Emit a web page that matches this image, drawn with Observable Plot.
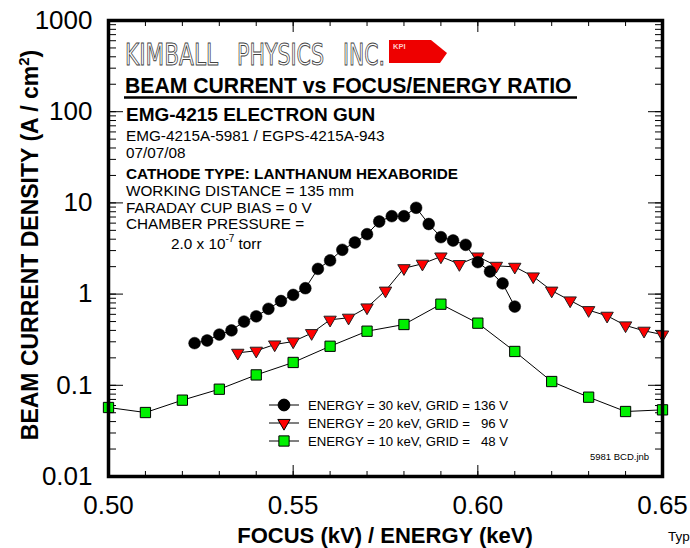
<!DOCTYPE html>
<html>
<head>
<meta charset="utf-8">
<script src="https://cdn.jsdelivr.net/npm/d3@7"></script>
<script src="https://cdn.jsdelivr.net/npm/@observablehq/plot@0.6"></script>
<style>
  html, body { margin: 0; padding: 0; background: #fff; overflow: hidden; }
  #chart { width: 690px; height: 548px; }
</style>
</head>
<body>
<div id="chart"></div>
<script>
// ---- Data ----
const ratio30 = [0.5233,0.5267,0.5300,0.5333,0.5367,0.5400,0.5433,0.5467,0.5500,0.5533,0.5567,0.5600,0.5633,0.5667,0.5700,0.5733,0.5767,0.5800,0.5833,0.5867,0.5900,0.5933,0.5967,0.6000,0.6033,0.6067,0.6100];
const density30 = [0.29,0.31,0.36,0.40,0.50,0.57,0.69,0.84,0.98,1.16,1.89,2.34,3.06,3.68,4.54,6.25,7.15,7.15,8.84,5.87,4.21,3.87,3.47,2.24,1.77,1.31,0.73];

const ratio20 = [0.535,0.540,0.545,0.550,0.555,0.560,0.565,0.570,0.575,0.580,0.585,0.590,0.595,0.600,0.605,0.610,0.615,0.620,0.625,0.630,0.635,0.640,0.645,0.650];
const density20 = [0.227,0.239,0.280,0.302,0.373,0.523,0.550,0.713,1.09,1.92,2.15,2.58,2.13,2.58,2.04,1.99,1.56,1.09,0.851,0.666,0.578,0.453,0.396,0.360];

const ratio10 = [0.50,0.51,0.52,0.53,0.54,0.55,0.56,0.57,0.58,0.59,0.60,0.61,0.62,0.63,0.64,0.65];
const density10 = [0.0571,0.0503,0.0687,0.0906,0.130,0.178,0.268,0.392,0.464,0.775,0.480,0.235,0.110,0.0741,0.0516,0.0538];

const seriesLabels = ["ENERGY = 30 keV, GRID = 136 V", "ENERGY = 20 keV, GRID =   96 V", "ENERGY = 10 keV, GRID =   48 V"];
const xTicks = [0.50, 0.55, 0.60, 0.65];
const yTicks = [0.01, 0.1, 1, 10, 100, 1000];

const xTitle = "FOCUS (kV) / ENERGY (keV)";
const yTitle = "BEAM CURRENT DENSITY (A / cm";

const s30 = ratio30.map((x, i) => ({x, y: density30[i]}));
const s20 = ratio20.map((x, i) => ({x, y: density20[i]}));
const s10 = ratio10.map((x, i) => ({x, y: density10[i]}));

const FONT = "'Liberation Sans', Arial, Helvetica, sans-serif";
const W = 690, H = 548, ML = 108, MR = 28, MT = 20, MB = 72;
const PW = W - ML - MR, PH = H - MT - MB;

// inward ticks: an axis of the opposite side, shifted across the frame
const tickOpts = {fill: "none", label: null, strokeWidth: 1};

const svg = Plot.plot({
  width: W,
  height: H,
  marginLeft: ML,
  marginRight: MR,
  marginTop: MT,
  marginBottom: MB,
  style: {fontFamily: FONT, background: "white", color: "black", overflow: "visible"},
  x: {domain: [0.5, 0.65]},
  y: {type: "log", domain: [0.01, 1000]},
  marks: [
    Plot.axisY({...tickOpts, anchor: "right", ticks: 40, tickSize: 7, dx: -PW}),
    Plot.axisY({...tickOpts, anchor: "right", ticks: yTicks, tickSize: 14, dx: -PW}),
    Plot.axisY({...tickOpts, anchor: "left", ticks: 40, tickSize: 7, dx: PW}),
    Plot.axisY({...tickOpts, anchor: "left", ticks: yTicks, tickSize: 14, dx: PW}),
    Plot.axisX({...tickOpts, anchor: "top", ticks: 15, tickSize: 6, dy: PH}),
    Plot.axisX({...tickOpts, anchor: "top", ticks: xTicks, tickSize: 12, dy: PH}),
    Plot.axisX({...tickOpts, anchor: "bottom", ticks: 15, tickSize: 6, dy: -PH}),
    Plot.axisX({...tickOpts, anchor: "bottom", ticks: xTicks, tickSize: 12, dy: -PH}),
    // tick labels
    Plot.axisY({anchor: "left", ticks: yTicks, tickSize: 0, tickPadding: 16, fontSize: 26, tickFormat: d => String(d), label: null}),
    Plot.axisX({anchor: "bottom", ticks: xTicks, tickSize: 0, tickPadding: 19, fontSize: 26, tickFormat: d3.format(".2f"), label: null}),
    // series
    Plot.line(s10, {x: "x", y: "y", stroke: "black", strokeWidth: 1}),
    Plot.line(s20, {x: "x", y: "y", stroke: "black", strokeWidth: 1}),
    Plot.line(s30, {x: "x", y: "y", stroke: "black", strokeWidth: 1}),
    Plot.dot(s10, {x: "x", y: "y", symbol: "square", r: 5.8, fill: "#00f000", stroke: "black", strokeWidth: 1}),
    Plot.dot(s20, {x: "x", y: "y", symbol: "triangle", rotate: 180, r: 4.6, fill: "#ff0000", stroke: "#222", strokeWidth: 1}),
    Plot.dot(s30, {x: "x", y: "y", symbol: "circle", r: 5.9, fill: "black", stroke: "black", strokeWidth: 0.5}),
    Plot.frame({stroke: "black", strokeWidth: 3.5})
  ]
});
document.getElementById("chart").appendChild(svg);

// ---- annotations (pixel-placed text inside the plot) ----
const g = d3.select(svg).append("g")
  .attr("font-family", FONT).attr("fill", "black").attr("text-anchor", "start");

// logo
const logoWords = [["KIMBALL", 125, 93], ["PHYSICS", 237, 87], ["INC.", 343, 42]];
logoWords.forEach(([t, x, w]) => {
  g.append("text").attr("x", x).attr("y", 65)
    .attr("font-family", "'DejaVu Sans Condensed', 'DejaVu Sans', sans-serif")
    .attr("font-size", 30).attr("fill", "white").attr("stroke", "#444").attr("stroke-width", 0.9)
    .attr("textLength", w).attr("lengthAdjust", "spacingAndGlyphs").text(t);
});
g.append("polygon").attr("points", "389,40 431,40 447,53 440,63 389,63").attr("fill", "#ee0000");
g.append("text").attr("x", 393).attr("y", 49).attr("font-size", 7.5).attr("font-weight", "bold")
  .attr("fill", "#ffc8c8").text("KPI");

// title
g.append("text").attr("x", 125).attr("y", 93).attr("font-size", 21.2).attr("font-weight", "bold")
  .text("BEAM CURRENT vs FOCUS/ENERGY RATIO");
g.append("line").attr("x1", 124).attr("x2", 577).attr("y1", 97.5).attr("y2", 97.5)
  .attr("stroke", "black").attr("stroke-width", 2.5);

g.append("text").attr("x", 126).attr("y", 121).attr("font-size", 19).attr("font-weight", "bold")
  .text("EMG-4215 ELECTRON GUN");
const infoLines = [
  ["EMG-4215A-5981 / EGPS-4215A-943", 140.5, false],
  ["07/07/08", 157.5, false],
  ["CATHODE TYPE: LANTHANUM HEXABORIDE", 179, true],
  ["WORKING DISTANCE = 135 mm", 195.7, false],
  ["FARADAY CUP BIAS = 0 V", 212.7, false],
  ["CHAMBER PRESSURE =", 229.3, false]
];
infoLines.forEach(([t, y, b]) => {
  g.append("text").attr("x", 126).attr("y", y).attr("font-size", 15.3)
    .attr("font-weight", b ? "bold" : "normal").text(t);
});
const press = g.append("text").attr("x", 171).attr("y", 249).attr("font-size", 15.3);
press.append("tspan").text("2.0 x 10");
press.append("tspan").attr("dy", -7).attr("font-size", 10).text("-7");
press.append("tspan").attr("dy", 7).text(" torr");

// legend
const legendRows = [405, 423, 441];
const legendSym = [
  {sym: d3.symbolCircle, size: Math.PI * 5.9 * 5.9, fill: "black", rot: 0},
  {sym: d3.symbolTriangle, size: Math.PI * 4.6 * 4.6, fill: "#ff0000", rot: 180},
  {sym: d3.symbolSquare, size: Math.PI * 5.8 * 5.8, fill: "#00f000", rot: 0}
];
legendRows.forEach((y, i) => {
  g.append("line").attr("x1", 269).attr("x2", 299).attr("y1", y).attr("y2", y)
    .attr("stroke", "black").attr("stroke-width", 1);
  g.append("path").attr("d", d3.symbol(legendSym[i].sym, legendSym[i].size)())
    .attr("transform", `translate(284,${y}) rotate(${legendSym[i].rot})`)
    .attr("fill", legendSym[i].fill).attr("stroke", "black").attr("stroke-width", 1);
  g.append("text").attr("x", 308).attr("y", y + 5).attr("font-size", 13.2)
    .style("white-space", "pre").text(seriesLabels[i]);
});
g.append("text").attr("x", 590).attr("y", 460).attr("font-size", 9.5).text("5981 BCD.jnb");

// axis titles
g.append("text").attr("x", 385).attr("y", 543).attr("text-anchor", "middle")
  .attr("font-size", 22).attr("font-weight", "bold").text(xTitle);
const yt = g.append("text").attr("transform", "translate(38,245) rotate(-90)")
  .attr("text-anchor", "middle").attr("font-size", 23).attr("font-weight", "bold");
yt.append("tspan").text(yTitle);
yt.append("tspan").attr("dy", -9).attr("font-size", 15).text("2");
yt.append("tspan").attr("dy", 9).text(")");

g.append("text").attr("x", 668).attr("y", 541).attr("font-size", 13.5).text("Typical");
</script>
</body>
</html>
